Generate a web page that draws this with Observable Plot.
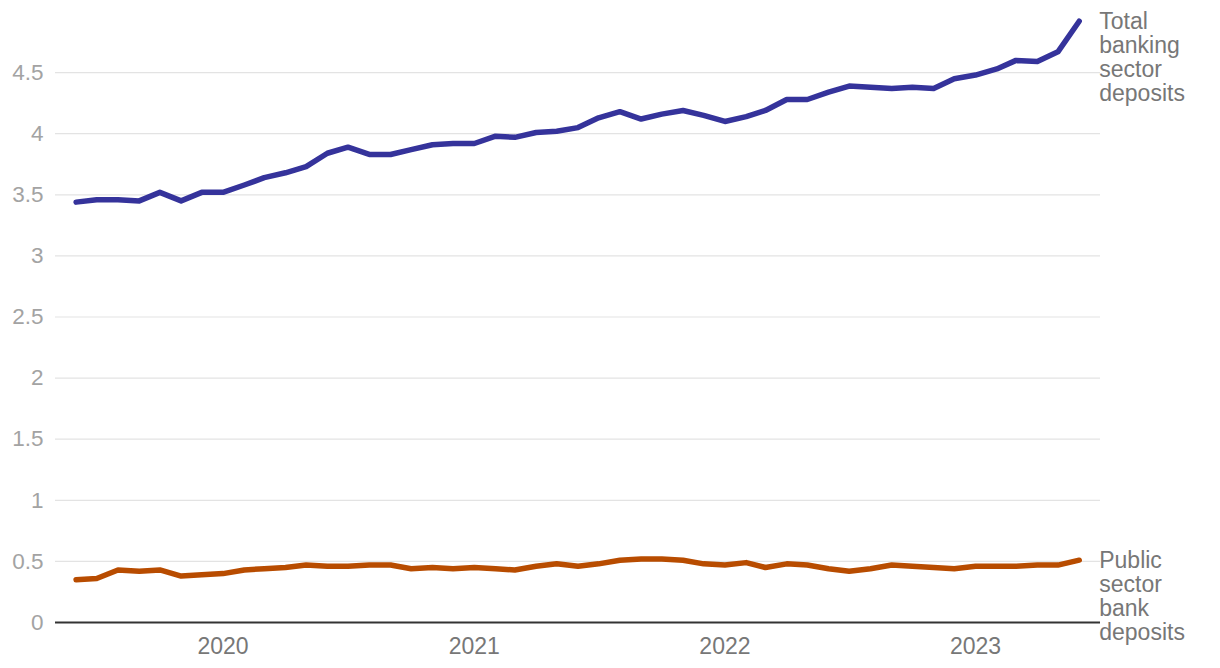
<!DOCTYPE html>
<html>
<head>
<meta charset="utf-8">
<script src="https://cdn.jsdelivr.net/npm/d3@7"></script>
<script src="https://cdn.jsdelivr.net/npm/@observablehq/plot@0.6"></script>
<style>
  html, body { margin: 0; padding: 0; background: #fff; }
  #chart svg { display: block; }
</style>
</head>
<body>
<div id="chart"></div>
<script>
const startMonth = "2019-06";
const totalDeposits = [3.44,3.46,3.46,3.45,3.52,3.45,3.52,3.52,3.58,3.64,3.68,3.73,3.84,3.89,3.83,3.83,3.87,3.91,3.92,3.92,3.98,3.97,4.01,4.02,4.05,4.13,4.18,4.12,4.16,4.19,4.15,4.10,4.14,4.19,4.28,4.28,4.34,4.39,4.38,4.37,4.38,4.37,4.45,4.48,4.53,4.60,4.59,4.67,4.92];
const publicDeposits = [0.35,0.36,0.43,0.42,0.43,0.38,0.39,0.40,0.43,0.44,0.45,0.47,0.46,0.46,0.47,0.47,0.44,0.45,0.44,0.45,0.44,0.43,0.46,0.48,0.46,0.48,0.51,0.52,0.52,0.51,0.48,0.47,0.49,0.45,0.48,0.47,0.44,0.42,0.44,0.47,0.46,0.45,0.44,0.46,0.46,0.46,0.47,0.47,0.51];
const seriesNames = ["Total\nbanking\nsector\ndeposits", "Public\nsector\nbank\ndeposits"];
const seriesColors = ["#35339b", "#b84c00"];
const yTicks = [0,0.5,1,1.5,2,2.5,3,3.5,4,4.5];
const xTicks = ["2020-01-01","2021-01-01","2022-01-01","2023-01-01"];

const start = new Date(startMonth + "-01T00:00:00Z");
const monthDate = i => new Date(Date.UTC(start.getUTCFullYear(), start.getUTCMonth() + i, 1));
const rows = [];
totalDeposits.forEach((v, i) => rows.push({date: monthDate(i), value: v, series: seriesNames[0]}));
publicDeposits.forEach((v, i) => rows.push({date: monthDate(i), value: v, series: seriesNames[1]}));
const lastRows = [
  {date: monthDate(totalDeposits.length - 1), value: totalDeposits[totalDeposits.length - 1], series: seriesNames[0]},
  {date: monthDate(publicDeposits.length - 1), value: publicDeposits[publicDeposits.length - 1], series: seriesNames[1]}
];
const xTickDates = xTicks.map(d => new Date(d + "T00:00:00Z"));

const chart = Plot.plot({
  width: 1220,
  height: 668,
  marginLeft: 55,
  marginRight: 120,
  marginTop: 11,
  marginBottom: 46,
  style: {fontFamily: "'Liberation Sans', Arial, Helvetica, sans-serif", background: "#fff"},
  x: {
    type: "utc",
    domain: [new Date(Date.UTC(2019, 4, 2)), new Date(Date.UTC(2023, 6, 2))],
    label: null
  },
  y: {
    domain: [0, 5],
    label: null
  },
  color: {domain: seriesNames, range: seriesColors},
  marks: [
    Plot.gridY(yTicks.filter(d => d > 0), {stroke: "#e3e3e3", strokeOpacity: 1, strokeWidth: 1.2}),
    Plot.axisY({ticks: yTicks, tickFormat: d => String(d), tickSize: 0, tickPadding: 12, fontSize: 22.5, fill: "#a3a3a3", label: null}),
    Plot.axisX({ticks: xTickDates, tickFormat: d3.utcFormat("%Y"), tickSize: 0, tickPadding: 15, fontSize: 23, fill: "#777", label: null}),
    Plot.ruleY([0], {stroke: "#333", strokeWidth: 2}),
    Plot.line(rows, {x: "date", y: "value", z: "series", stroke: "series", strokeWidth: 5.5, strokeLinejoin: "round", strokeLinecap: "round"}),
    Plot.text(lastRows, {x: "date", y: "value", text: "series", dx: 20, dy: -9, textAnchor: "start", lineAnchor: "top", lineHeight: 1.045, fontSize: 23, fill: "#777"})
  ]
});
document.getElementById("chart").appendChild(chart);
</script>
</body>
</html>
